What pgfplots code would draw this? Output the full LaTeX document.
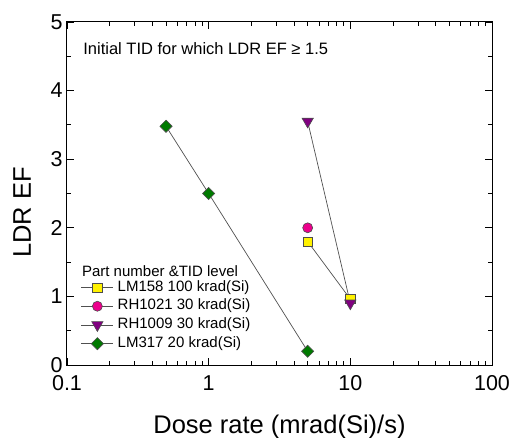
\documentclass[border=0pt]{standalone}
\usepackage{pgfplots}
\pgfplotsset{compat=1.18}
\usepackage{fontspec}
\setmainfont{Liberation Sans}
\definecolor{lnc}{HTML}{505050}
\definecolor{mygreen}{HTML}{007A00}
\definecolor{mypurple}{HTML}{800080}
\begin{document}
\begin{tikzpicture}
\begin{axis}[
  scale only axis,
  width=425pt, height=343pt,
  xmode=log,
  xmin=0.1, xmax=100,
  ymin=0, ymax=5,
  xtick={0.1,1,10,100},
  xticklabels={0.1,1,10,100},
  ytick={0,1,2,3,4,5},
  yticklabels={0,1,2,3,4,5},
  minor ytick={0.5,1.5,2.5,3.5,4.5},
  tick align=inside,
  major tick length=7pt,
  minor tick length=4pt,
  every tick/.style={black, line width=0.8pt},
  axis line style={line width=1pt},
  tick label style={font=\fontsize{21.5}{24}\selectfont},
  xticklabel style={yshift=-7pt},
  yticklabel style={xshift=-1pt},
  xlabel={Dose rate (mrad(Si)/s)},
  xlabel style={font=\fontsize{25.5}{28}\selectfont, at={(rel axis cs:0.5,0)}, anchor=base, yshift=-68pt},
  legend cell align=left,
  legend style={draw=none, fill=none, inner sep=0pt, outer sep=0pt,
    at={(rel axis cs:0.033,0.247)}, anchor=north west,
    font=\fontsize{15}{18}\selectfont,
    nodes={inner sep=0pt, text height=11pt, text depth=3.5pt},
    row sep=4.2pt, column sep=4pt},
  legend image code/.code={\draw[mark repeat=2,mark phase=2,#1] plot coordinates {(0pt,0pt) (16pt,0pt) (32pt,0pt)};},
  clip=false,
]
\addplot[lnc, line width=0.7pt, mark=square*, mark size=4.6pt, mark options={fill=yellow, draw=black!70, line width=0.6pt, solid}]
  coordinates {(5,1.8) (10,0.96)};
\addlegendentry{LM158 100 krad(Si)}
\addplot[lnc, line width=0.7pt, mark=*, mark size=5pt, mark options={fill=magenta, draw=black!70, line width=0.6pt, solid}]
  coordinates {(5,2.0)};
\addlegendentry{RH1021 30 krad(Si)}
\addplot[lnc, line width=0.7pt, mark=triangle*, mark size=6.5pt, mark options={fill=mypurple, draw=black!70, line width=0.6pt, solid, rotate=180}]
  coordinates {(5,3.55) (10,0.9)};
\addlegendentry{RH1009 30 krad(Si)}
\addplot[lnc, line width=0.7pt, mark=square*, mark size=4.3pt, mark options={fill=mygreen, draw=black!70, line width=0.6pt, solid, rotate=45}]
  coordinates {(0.5,3.48) (1,2.5) (5,0.2)};
\addlegendentry{LM317 20 krad(Si)}
\node[anchor=base west, inner sep=0pt, font=\fontsize{16.5}{19}\selectfont] at (rel axis cs:0.038,0.904) {Initial TID for which LDR EF ≥ 1.5};
\node[anchor=base west, inner sep=0pt, font=\fontsize{15}{18}\selectfont] at (rel axis cs:0.035,0.258) {Part number \&TID level};
\node[rotate=90, inner sep=0pt, font=\fontsize{25.5}{28}\selectfont] at ([xshift=-45pt]rel axis cs:0,0.445) {LDR EF};
\coordinate (bl) at (rel axis cs:0,0);
\coordinate (tr) at (rel axis cs:1,1);
\end{axis}
\pgfresetboundingbox
\path ([shift={(-67pt,-73pt)}]bl) rectangle ([shift={(21pt,22pt)}]tr);
\end{tikzpicture}
\end{document}
